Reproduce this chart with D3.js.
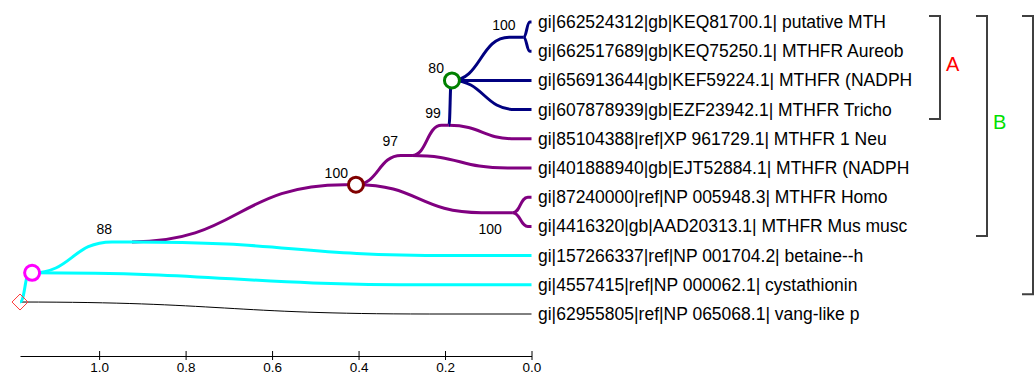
<!DOCTYPE html>
<html><head><meta charset="utf-8">
<script src="https://cdn.jsdelivr.net/npm/d3@7"></script>
<style>
html,body{margin:0;padding:0;background:#fff;}
svg{display:block;font-family:"Liberation Sans",Arial,sans-serif;}
</style></head>
<body><svg id="c" width="1036" height="376"></svg>
<script>
// ---- data ----
const leafLabels = [
  "gi|662524312|gb|KEQ81700.1| putative MTH",
  "gi|662517689|gb|KEQ75250.1| MTHFR Aureob",
  "gi|656913644|gb|KEF59224.1| MTHFR (NADPH",
  "gi|607878939|gb|EZF23942.1| MTHFR Tricho",
  "gi|85104388|ref|XP 961729.1| MTHFR 1 Neu",
  "gi|401888940|gb|EJT52884.1| MTHFR (NADPH",
  "gi|87240000|ref|NP 005948.3| MTHFR Homo",
  "gi|4416320|gb|AAD20313.1| MTHFR Mus musc",
  "gi|157266337|ref|NP 001704.2| betaine--h",
  "gi|4557415|ref|NP 000062.1| cystathionin",
  "gi|62955805|ref|NP 065068.1| vang-like p"
];
const nodeIds      = ["root", "mag", "n88", "n100a", "n97", "n99", "n80", "nKEQ", "nHomo"];
const nodeDist     = [1.183, 1.155, 0.924, 0.406, 0.276, 0.191, 0.184, 0.0185, 0.043];
const nodeRow      = [9.59, 8.59, 7.53, 5.57, 4.57, 3.54, 2.0, 0.52, 6.53];
const nodeSupport  = [null, null, 88, 100, 97, 99, 80, 100, 100];
const edgeParent = ["root","root","mag","mag","n88","n88","n100a","n100a","n97","n97","n99","n99","n80","n80","n80","nKEQ","nKEQ","nHomo","nHomo"];
const edgeChild  = ["mag","L10","n88","L9","L8","n100a","n97","nHomo","n99","L5","n80","L4","nKEQ","L2","L3","L0","L1","L6","L7"];
const axisTicks = [0, 0.2, 0.4, 0.6, 0.8, 1.0];
const bracketNames = ["A", "B", ""];
const bracketFirstLeaf = [0, 0, 0];
const bracketLastLeaf  = [3, 7, 9];

// ---- layout / style ----
const x = d3.scaleLinear().domain([0, 1.183]).range([531.5, 20]);
const y = d3.scaleLinear().domain([0, 10]).range([22, 314]);
const svg = d3.select("#c");

const navy = "#000080", purple = "#800080", cyan = "#00ffff";
const clade = {
  mag: cyan, L10: "#000", n88: cyan, L9: cyan, L8: cyan,
  n100a: purple, n97: purple, nHomo: purple, n99: purple, L5: purple, L4: purple, L6: purple, L7: purple,
  n80: navy, nKEQ: navy, L2: navy, L3: navy, L0: navy, L1: navy
};
const order = {"#000": 0, [purple]: 1, [cyan]: 2, [navy]: 3};
const curveSpan = {n100a: 0.95};

const pos = {};
nodeIds.forEach((id, i) => pos[id] = {x: x(nodeDist[i]), y: y(nodeRow[i])});
leafLabels.forEach((l, i) => pos["L" + i] = {x: x(0), y: y(i)});

function branch(p, c, f) {
  const L = f * (c.x - p.x);
  return `M${p.x},${p.y}C${p.x + L / 2},${p.y} ${p.x + L / 2},${c.y} ${p.x + L},${c.y}L${c.x},${c.y}`;
}

const edges = edgeParent.map((p, i) => ({p, c: edgeChild[i], col: clade[edgeChild[i]]}))
  .sort((a, b) => order[a.col] - order[b.col]);

svg.append("g").selectAll("path").data(edges).join("path")
  .attr("d", e => branch(pos[e.p], pos[e.c], curveSpan[e.c] || 0.8))
  .attr("fill", "none")
  .attr("stroke", e => e.col)
  .attr("stroke-width", e => e.col === "#000" ? 1 : 3);

// leaf labels
svg.append("g").selectAll("text").data(leafLabels).join("text")
  .attr("x", 538).attr("y", (d, i) => y(i) + 6)
  .attr("font-size", 17.5).attr("fill", "#000")
  .text(d => d);

// node markers
const r = pos.root;
svg.append("path")
  .attr("d", `M${r.x - 8},${r.y}L${r.x},${r.y - 8}L${r.x + 8},${r.y}L${r.x},${r.y + 8}Z`)
  .attr("fill", "none").attr("stroke", "#ff3c3c").attr("stroke-width", 1);
const circ = [["mag", "#ff00ff"], ["n80", "#008000"], ["n100a", "#800000"]];
svg.append("g").selectAll("circle").data(circ).join("circle")
  .attr("cx", d => pos[d[0]].x).attr("cy", d => pos[d[0]].y).attr("r", 7.5)
  .attr("fill", "#fff").attr("stroke", d => d[1]).attr("stroke-width", 3);

// support values
const labelOff = {n88: [-20, -8], n97: [-14, -9], nHomo: [-11, 21]};
svg.append("g").selectAll("text")
  .data(nodeIds.map((id, i) => ({id, s: nodeSupport[i]})).filter(d => d.s != null))
  .join("text")
  .attr("x", d => pos[d.id].x + (labelOff[d.id] ? labelOff[d.id][0] : -8))
  .attr("y", d => pos[d.id].y + (labelOff[d.id] ? labelOff[d.id][1] : -7))
  .attr("text-anchor", "end").attr("font-size", 14).attr("fill", "#000")
  .text(d => d.s);

// axis
const ax = svg.append("g").attr("transform", "translate(0,356)")
  .call(d3.axisBottom(x).tickValues(axisTicks).tickFormat(d3.format(".1f")).tickSize(4).tickSizeOuter(0).tickPadding(2));
ax.select(".domain").attr("stroke", "#000");
ax.selectAll(".tick line").attr("y1", -5).attr("stroke", "#000");
ax.selectAll(".tick text").attr("font-size", 13.5).attr("font-family", "Liberation Sans, Arial, sans-serif").attr("fill", "#000");

// brackets
const bx = [940, 987, 1033];
const bcol = ["#ff0000", "#00e000", "#000"];
bracketNames.forEach((n, i) => {
  const y0 = y(bracketFirstLeaf[i]) - 6, y1 = y(bracketLastLeaf[i]) + 9.5;
  svg.append("path")
    .attr("d", `M${bx[i] - 11},${y0}H${bx[i]}V${y1}H${bx[i] - 11}`)
    .attr("fill", "none").attr("stroke", "#404040").attr("stroke-width", 2);
  if (n) svg.append("text").attr("x", bx[i] + 6).attr("y", (y0 + y1) / 2 + 3)
    .attr("font-size", 20).attr("fill", bcol[i]).text(n);
});
</script></body></html>
